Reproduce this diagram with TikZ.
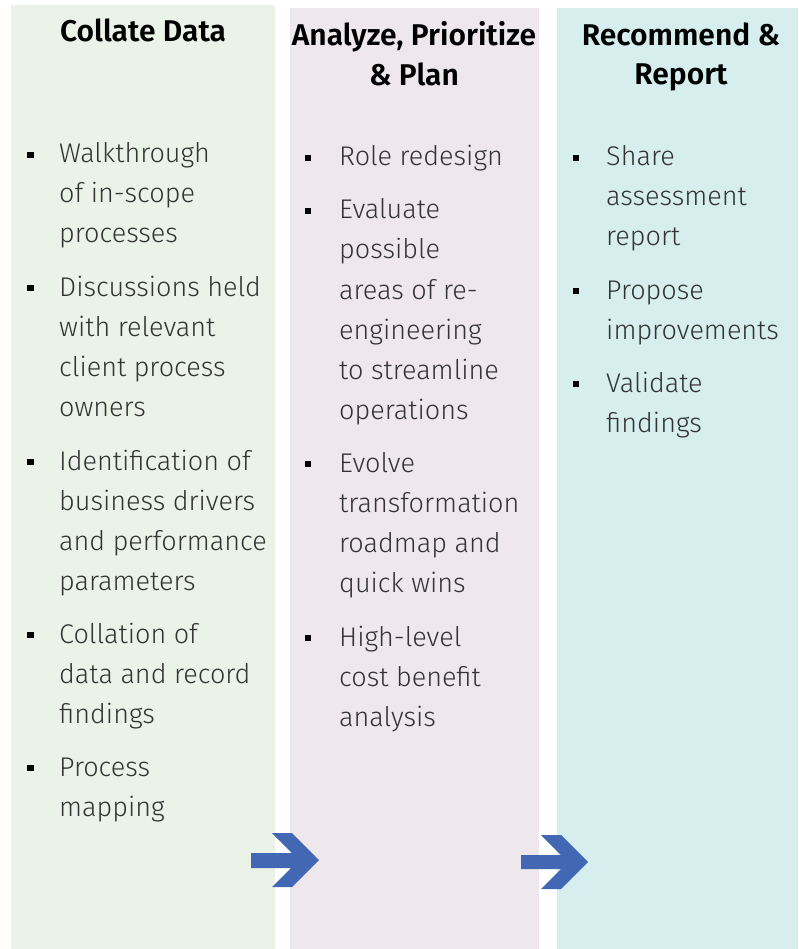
\documentclass[tikz,border=0pt]{standalone}
\usepackage{fontspec}
\setmainfont{Fira Sans}[UprightFont={* Light}, BoldFont={* SemiBold}]
\definecolor{colA}{HTML}{EBF3E8}
\definecolor{colB}{HTML}{EEE8EC}
\definecolor{colC}{HTML}{D6EEEE}
\definecolor{arrowblue}{HTML}{4268B3}
\definecolor{bodytext}{HTML}{333333}
\tikzset{
  title/.style={anchor=base, font=\fontsize{30}{40}\selectfont\bfseries, text=black, inner sep=0pt},
  line/.style={anchor=base west, font=\fontsize{27}{40}\selectfont, text=bodytext, inner sep=0pt},
  bul/.style={fill=black, minimum size=6.5pt, inner sep=0pt, draw=none},
  chev/.style={fill=arrowblue, draw=none}
}
\begin{document}
\begin{tikzpicture}[x=1pt,y=-1pt]
\useasboundingbox (0,0) rectangle (798,949);
% columns
\fill[colA] (11,5) rectangle (275,949);
\fill[colB] (290,8) rectangle (539,949);
\fill[colC] (557,8) rectangle (798,949);
% titles
\node[title] (t1) at (143,42) {Collate Data};
\node[title] (t2a) at (414,46) {Analyze, Prioritize};
\node[title] (t2b) at (414,86) {\& Plan};
\node[title] (t3a) at (681,46) {Recommend \&};
\node[title] (t3b) at (681,85) {Report};
% column 1
\foreach \y [count=\i] in {163,296,470,643,776}
  \node[bul] (b1\i) at (30.5,\y-8) {};
\node[line] (a1) at (59,163) {Walkthrough};
\node[line] (a2) at (59,203) {of in-scope};
\node[line] (a3) at (59,243) {processes};
\node[line] (a4) at (59,296) {Discussions held};
\node[line] (a5) at (59,336) {with relevant};
\node[line] (a6) at (59,376) {client process};
\node[line] (a7) at (59,416) {owners};
\node[line] (a8) at (59,470) {Identification of};
\node[line] (a9) at (59,510) {business drivers};
\node[line] (a10) at (59,550) {and performance};
\node[line] (a11) at (59,590) {parameters};
\node[line] (a12) at (59,643) {Collation of};
\node[line] (a13) at (59,683) {data and record};
\node[line] (a14) at (59,723) {findings};
\node[line] (a15) at (59,776) {Process};
\node[line] (a16) at (59,816) {mapping};
% column 2
\foreach \y [count=\i] in {166,219,472,646}
  \node[bul] (b2\i) at (308,\y-8) {};
\node[line] (c1) at (339,166) {Role redesign};
\node[line] (c2) at (339,219) {Evaluate};
\node[line] (c3) at (339,259) {possible};
\node[line] (c4) at (339,299) {areas of re-};
\node[line] (c5) at (339,339) {engineering};
\node[line] (c6) at (339,379) {to streamline};
\node[line] (c7) at (339,419) {operations};
\node[line] (c8) at (339,472) {Evolve};
\node[line] (c9) at (339,512) {transformation};
\node[line] (c10) at (339,552) {roadmap and};
\node[line] (c11) at (339,592) {quick wins};
\node[line] (c12) at (339,646) {High-level};
\node[line] (c13) at (339,686) {cost benefit};
\node[line] (c14) at (339,726) {analysis};
% column 3
\foreach \y [count=\i] in {166,299,392}
  \node[bul] (b3\i) at (576,\y-8) {};
\node[line] (d1) at (606,166) {Share};
\node[line] (d2) at (606,206) {assessment};
\node[line] (d3) at (606,246) {report};
\node[line] (d4) at (606,299) {Propose};
\node[line] (d5) at (606,339) {improvements};
\node[line] (d6) at (606,392) {Validate};
\node[line] (d7) at (606,432) {findings};
% arrows
\fill[chev] (251,853) -- (292,853) -- (272,833) -- (292,833) -- (319,860) -- (292,887) -- (272,887) -- (291,868) -- (251,868) -- cycle;
\fill[chev] (521,855) -- (561,855) -- (541,835) -- (561,835) -- (588,862) -- (561,889) -- (541,889) -- (561,869) -- (521,869) -- cycle;
\end{tikzpicture}
\end{document}
